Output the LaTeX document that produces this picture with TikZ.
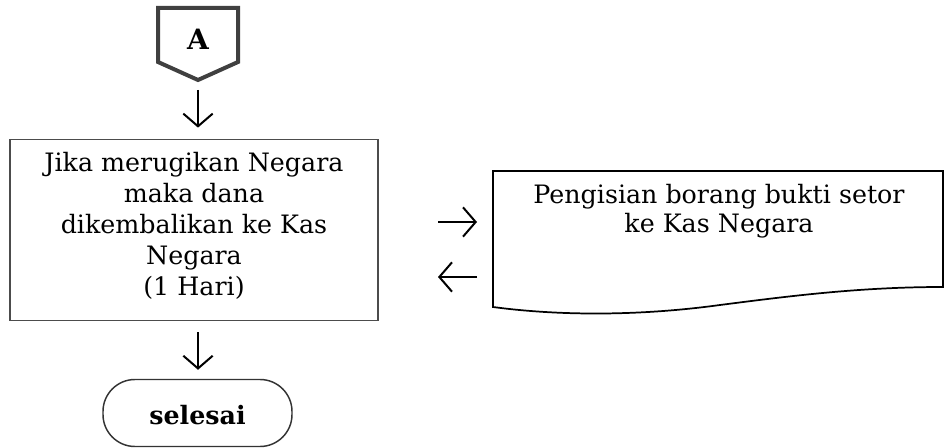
\documentclass[tikz,border=0pt]{standalone}
\usepackage{fontspec}
\setmainfont{DejaVu Serif}
\usetikzlibrary{arrows.meta}
\begin{document}
\begin{tikzpicture}[x=0.75pt,y=-0.75pt,
  arr/.style={-{Straight Barb[length=9.5pt,width=22pt,line width=1.5pt]}, line width=1.5pt, draw=black},
  boxline/.style={draw=black!70, line width=1.3pt},
  txt/.style={font=\fontsize{19}{23.25}\selectfont, align=center, inner sep=0pt},
  dtxt/.style={font=\fontsize{19}{21.5}\selectfont, align=center, inner sep=0pt},
  btxt/.style={font=\fontsize{19}{23.25}\selectfont\bfseries, inner sep=0pt}]
\useasboundingbox (0,0) rectangle (946,448);
% off-page connector A
\draw[line width=3pt, draw=black!75, line join=miter] (158,8) -- (238,8) -- (238,62) -- (198,80) -- (158,62) -- cycle;
\node[btxt, font=\fontsize{21}{24}\selectfont\bfseries] (A) at (198,39) {A};
\coordinate (Atip) at (198,80);
% process box
\node[boxline, minimum width=368*0.75pt, minimum height=181*0.75pt, inner sep=0pt] (box) at (194,230) {};
\node[txt] (boxtxt) at (194,226) {Jika merugikan Negara\\maka dana\\dikembalikan ke Kas\\Negara\\(1 Hari)};
% document shape
\draw[boxline, draw=black] (493,171) -- (943,171) -- (943,287) .. controls (860,287) and (790,296) .. (720,305) .. controls (640,316) and (560,316) .. (493,307) -- cycle;
\node[dtxt] (doctxt) at (719,211) {Pengisian borang bukti setor\\ke Kas Negara};
% terminal
\node[draw=black!80, line width=1.1pt, rounded corners=24pt, minimum width=189*0.75pt, minimum height=67*0.75pt, inner sep=0pt] (end) at (197.5,413) {};
\node[btxt] (endtxt) at (197.5,415) {selesai};
% connectors
\draw[arr, shorten <=10*0.75pt, shorten >=11*0.75pt] (Atip) -- (box.north -| Atip);
\draw[arr, shorten <=11*0.75pt, shorten >=9*0.75pt] (box.south -| Atip) -- (end.north -| Atip);
\coordinate (r1s) at (438,222);
\coordinate (r1e) at (477,222);
\coordinate (l1s) at (477,277);
\coordinate (l1e) at (438,277);
\draw[arr] (r1s) -- (r1e);
\draw[arr] (l1s) -- (l1e);
\end{tikzpicture}
\end{document}
